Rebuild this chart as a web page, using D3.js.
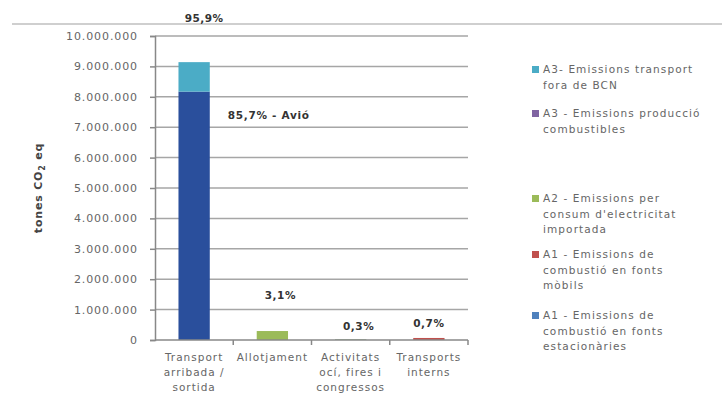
<!DOCTYPE html>
<html>
<head>
<meta charset="utf-8">
<style>
  body { margin: 0; background: #fff; }
  svg { font-family: "DejaVu Sans", sans-serif; }
</style>
</head>
<body>
<svg id="chart"></svg>
<script src="https://d3js.org/d3.v7.min.js"></script>
<script>
    const width = 722;
    const height = 405;

    // data
    const categories = [
        ['Transport', 'arribada /', 'sortida'],
        ['Allotjament'],
        ['Activitats', 'ocí, fires i', 'congressos'],
        ['Transports', 'interns']
    ];
    const seriesNames = [
        'A1 - Emissions de combustió en fonts estacionàries',
        'A1 - Emissions de combustió en fonts mòbils',
        'A2 - Emissions per consum d\'electricitat importada',
        'A3 - Emissions producció combustibles',
        'A3 - Avió',
        'A3- Emissions transport fora de BCN'
    ];
    const seriesColors = ['#4f81bd', '#c0504d', '#9bbb59', '#8064a2', '#2a4f9c', '#4bacc6'];
    // values per series, one per category
    const estacionaries = [0, 0, 15000, 0];
    const mobils = [0, 0, 0, 67000];
    const electricitat = [0, 295000, 15000, 0];
    const produccio = [0, 0, 0, 0];
    const avio = [8170000, 0, 0, 0];
    const transportFora = [970000, 0, 0, 0];
    const pctLabels = ['95,9%', '3,1%', '0,3%', '0,7%'];
    const yTicks = [0, 1e6, 2e6, 3e6, 4e6, 5e6, 6e6, 7e6, 8e6, 9e6, 10e6];
    const legendItems = [
        { color: 5, lines: ['A3- Emissions transport', 'fora de BCN'] },
        { color: 3, lines: ['A3 - Emissions producció', 'combustibles'] },
        { color: 2, lines: ['A2 - Emissions per', 'consum d\'electricitat', 'importada'] },
        { color: 1, lines: ['A1 - Emissions de', 'combustió en fonts', 'mòbils'] },
        { color: 0, lines: ['A1 - Emissions de', 'combustió en fonts', 'estacionàries'] }
    ];

    const allSeries = [estacionaries, mobils, electricitat, produccio, avio, transportFora];
    const margin = { left: 155, right: 254, top: 36, bottom: 65 };

    const svg = d3.select('#chart').attr('width', width).attr('height', height);

    // page separator line
    svg.append('line')
        .attr('x1', 12).attr('x2', width).attr('y1', 24).attr('y2', 24)
        .attr('stroke', '#cfcfcf').attr('stroke-width', 2);

    const x = d3.scaleBand()
        .domain(d3.range(categories.length))
        .range([margin.left, width - margin.right])
        .paddingInner(0.6).paddingOuter(0.3);
    const xb = d3.scaleBand()
        .domain(d3.range(categories.length))
        .range([margin.left, width - margin.right]);
    const y = d3.scaleLinear().domain([0, 10e6]).range([height - margin.bottom, margin.top]);

    // gridlines
    svg.append('g').selectAll('line')
        .data(yTicks.slice(1))
        .join('line')
        .attr('x1', margin.left).attr('x2', width - margin.right)
        .attr('y1', d => y(d)).attr('y2', d => y(d))
        .attr('stroke', '#a6a6a6').attr('stroke-width', 1.5);

    // y axis
    const fmt = d => d3.format(',')(d).replace(/,/g, '.');
    const yAxis = svg.append('g')
        .attr('transform', `translate(${margin.left},0)`)
        .call(d3.axisLeft(y).tickValues(yTicks).tickFormat(fmt).tickSize(5).tickPadding(12));
    yAxis.select('.domain').attr('stroke', '#888').attr('stroke-width', 1.5);
    yAxis.selectAll('.tick line').attr('stroke', '#888').attr('stroke-width', 1.5);
    yAxis.selectAll('text').attr('font-size', 11).attr('letter-spacing', 0.9)
        .attr('font-family', '"DejaVu Sans", sans-serif').attr('fill', '#666');

    // y title
    const yTitle = svg.append('text')
        .attr('transform', `translate(42,${y(5e6)}) rotate(-90)`)
        .attr('text-anchor', 'middle')
        .attr('font-size', 11).attr('font-weight', 'bold').attr('letter-spacing', 0.8)
        .attr('fill', '#444');
    yTitle.append('tspan').text('tones CO');
    yTitle.append('tspan').attr('font-size', 8).attr('dy', 3).text('2');
    yTitle.append('tspan').attr('dy', -3).text(' eq');

    // stacked bars
    const rows = categories.map((c, i) => {
        const r = { i };
        allSeries.forEach((s, k) => r[k] = s[i]);
        return r;
    });
    const stack = d3.stack().keys(d3.range(allSeries.length))(rows);
    svg.append('g').selectAll('g')
        .data(stack)
        .join('g')
        .attr('fill', (d, k) => seriesColors[k])
        .selectAll('rect')
        .data(d => d)
        .join('rect')
        .attr('x', d => x(d.data.i))
        .attr('width', x.bandwidth())
        .attr('y', d => y(d[1]))
        .attr('height', d => y(d[0]) - y(d[1]));

    // x axis
    const xAxis = svg.append('g')
        .attr('transform', `translate(0,${y(0)})`);
    xAxis.append('line')
        .attr('x1', margin.left).attr('x2', width - margin.right)
        .attr('stroke', '#888').attr('stroke-width', 1.5);
    xAxis.selectAll('.tk')
        .data(d3.range(1, categories.length + 1))
        .join('line')
        .attr('x1', i => xb(i - 1) + xb.bandwidth()).attr('x2', i => xb(i - 1) + xb.bandwidth())
        .attr('y1', 0).attr('y2', 5)
        .attr('stroke', '#888').attr('stroke-width', 1.5);
    xAxis.selectAll('text')
        .data(categories)
        .join('text')
        .attr('text-anchor', 'middle')
        .attr('font-size', 10.5).attr('letter-spacing', 1).attr('fill', '#666')
        .attr('x', (d, i) => xb(i) + xb.bandwidth() / 2)
        .attr('y', 21)
        .selectAll('tspan')
        .data(d => d)
        .join('tspan')
        .attr('x', function () { return this.parentNode.getAttribute('x'); })
        .attr('dy', (d, j) => j === 0 ? 0 : 15)
        .text(d => d);

    // percentage labels
    const totals = rows.map(r => d3.sum(allSeries, (s, k) => r[k]));
    const labelOffsets = [[10, -8], [8, -32], [8, -9], [0, -11]];
    svg.append('g').selectAll('text')
        .data(pctLabels)
        .join('text')
        .attr('text-anchor', 'middle')
        .attr('font-size', 10.5).attr('font-weight', 'bold').attr('letter-spacing', 0.5)
        .attr('fill', '#333')
        .attr('x', (d, i) => xb(i) + xb.bandwidth() / 2 + labelOffsets[i][0])
        .attr('y', (d, i) => i === 0 ? 22 : y(totals[i]) + labelOffsets[i][1])
        .text(d => d);

    svg.append('text')
        .attr('x', x(0) + x.bandwidth() + 18)
        .attr('y', y(avio[0]) + 27)
        .attr('font-size', 10.5).attr('font-weight', 'bold').attr('letter-spacing', 0.7)
        .attr('fill', '#333')
        .text('85,7% - Avió');

    // legend
    const legend = svg.append('g').attr('transform', 'translate(532,0)');
    const legendY = [73, 117, 202, 258, 319];
    legendItems.forEach((item, n) => {
        const g = legend.append('g').attr('transform', `translate(0,${legendY[n]})`);
        g.append('rect').attr('x', 0).attr('y', -7).attr('width', 7).attr('height', 7)
            .attr('fill', seriesColors[item.color]);
        g.append('text')
            .attr('x', 11).attr('font-size', 10.5).attr('letter-spacing', 1.1).attr('fill', '#666')
            .selectAll('tspan')
            .data(item.lines)
            .join('tspan')
            .attr('x', 11)
            .attr('y', (d, j) => j * 15.5)
            .text(d => d);
    });
</script>
</body>
</html>
